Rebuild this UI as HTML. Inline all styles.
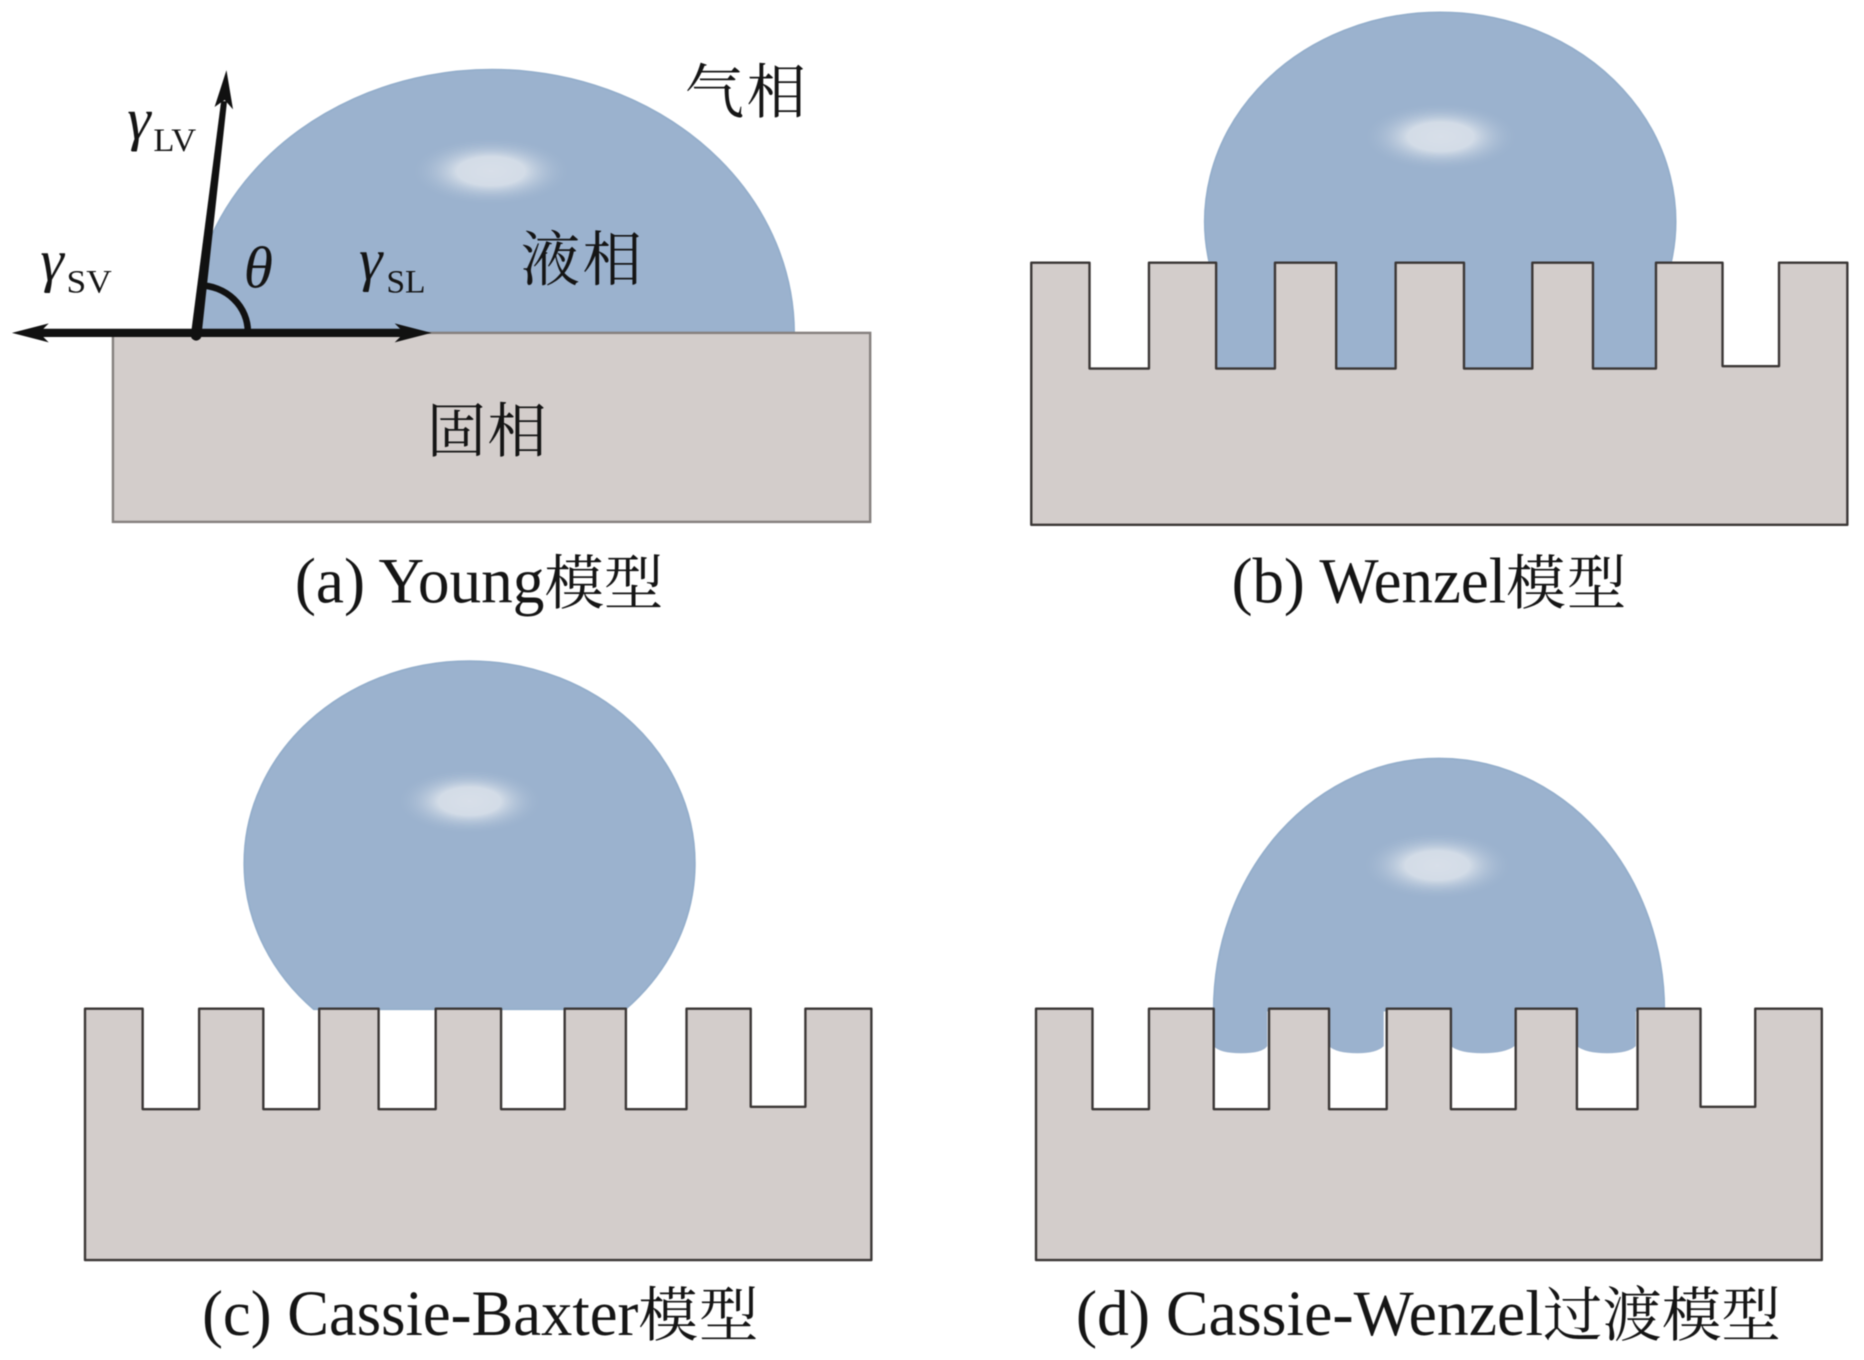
<!DOCTYPE html>
<html lang="zh">
<head>
<meta charset="utf-8">
<title>Wetting models</title>
<style>
html,body{margin:0;padding:0;background:#fff;width:1864px;height:1360px;overflow:hidden}
svg{display:block;filter:blur(.45px)}
text{fill:#151515;font-family:"Liberation Serif","Noto Serif CJK SC",serif}
.cap{font-size:54px}
.cn{font-size:50px}
.g{font-size:50px;font-style:italic}
.s{font-size:28px}
.d{fill:#9bb2ce;stroke:#94aecb;stroke-width:1.5}
.b{fill:#9bb2ce}
.sub{fill:#d3cdcb;stroke:#3b3736;stroke-width:2;stroke-linejoin:round}
</style>
</head>
<body>
<svg width="1864" height="1360" viewBox="0 0 1568 1144" xmlns="http://www.w3.org/2000/svg">
<defs>
<radialGradient id="h">
<stop offset="0" stop-color="#d8dfe9"/>
<stop offset="0.42" stop-color="#d3dce7"/>
<stop offset="1" stop-color="#9bb2ce" stop-opacity="0"/>
</radialGradient>
</defs>
<rect width="1568" height="1144" fill="#fff"/>

<!-- (a) Young -->
<path class="d" d="M165 280 L169 222 A254 222 0 0 1 668 280 Z"/>
<ellipse cx="413" cy="144" rx="68" ry="29" fill="url(#h)"/>
<rect x="95" y="280" width="637" height="159" fill="#d3cdcb" stroke="#85807e" stroke-width="2"/>
<path d="M168 240 A41 39 0 0 1 208.5 279" fill="none" stroke="#111" stroke-width="5.5"/>
<path d="M160.5 282 L169.5 282 L191 85 L186 85 Z" fill="#111"/>
<path d="M190.5 59 L196 92 L189 84 L180.5 90 Z" fill="#111"/>
<path d="M25 280 H345" stroke="#111" stroke-width="7" fill="none"/>
<path d="M10 280 L41 272 L33 280 L41 288 Z" fill="#111"/>
<path d="M363 280 L332 272 L340 280 L332 288 Z" fill="#111"/>
<circle cx="165" cy="282" r="4.5" fill="#111"/>

<text class="g" x="107" y="117">γ</text><text class="s" x="129" y="127" textLength="36" lengthAdjust="spacingAndGlyphs">LV</text>
<text class="g" x="34" y="236">γ</text><text class="s" x="56" y="246" textLength="38" lengthAdjust="spacingAndGlyphs">SV</text>
<text class="g" x="302" y="235">γ</text><text class="s" x="325" y="246" textLength="33" lengthAdjust="spacingAndGlyphs">SL</text>
<text class="g" x="205" y="242">θ</text>
<text class="cn" x="576" y="95" textLength="102">气相</text>
<text class="cn" x="438" y="236" textLength="102">液相</text>
<text class="cn" x="359" y="380" textLength="101">固相</text>
<text class="cap" x="248" y="507" textLength="210" lengthAdjust="spacingAndGlyphs">(a) Young</text>
<text class="cn" x="458" y="508" textLength="100">模型</text>

<!-- (b) Wenzel -->
<path class="d" d="M1017.6 222 A198 176 0 1 1 1405.4 222 Z"/>
<rect class="b" x="1020" y="215" width="376" height="95"/>
<ellipse cx="1212" cy="115" rx="66" ry="29" fill="url(#h)"/>
<path class="sub" d="M867.5 221 H916.5 V310 H966.5 V221 H1023 V310 H1072.5 V221 H1124 V310 H1174 V221 H1231.5 V310 H1289 V221 H1340 V310 H1393 V221 H1449 V308 H1496.5 V221 H1554 V441.5 H867.5 Z"/>
<text class="cap" x="1036" y="507" textLength="231" lengthAdjust="spacingAndGlyphs">(b) Wenzel</text>
<text class="cn" x="1267" y="508" textLength="101">模型</text>

<!-- (c) Cassie-Baxter -->
<path class="d" d="M264 849 A189.5 170 0 1 1 526 849 Z"/>
<ellipse cx="395" cy="674" rx="62" ry="28" fill="url(#h)"/>
<path class="sub" d="M71.5 848.5 H120 V933 H167.5 V848.5 H221.5 V933 H268.5 V848.5 H318.5 V933 H366.5 V848.5 H421.5 V933 H475 V848.5 H526.5 V933 H577.5 V848.5 H631.5 V931 H677.5 V848.5 H733 V1060 H71.5 Z"/>
<text class="cap" x="170" y="1123" textLength="367" lengthAdjust="spacingAndGlyphs">(c) Cassie-Baxter</text>
<text class="cn" x="537" y="1124" textLength="101">模型</text>

<!-- (d) Cassie-Wenzel -->
<path class="d" d="M1021 850 A189.5 212 0 0 1 1400 850 Z"/>
<path class="b" d="M1021 845 V880 Q1026 886 1044 886 Q1062 886 1066 880 V845 Z"/>
<path class="b" d="M1118 845 V880 Q1124 886 1142 886 Q1158 886 1164 880 V845 Z"/>
<path class="b" d="M1220.5 845 V880 Q1228 886 1247 886 Q1266 886 1274 880 V845 Z"/>
<path class="b" d="M1326.5 845 V880 Q1334 886 1352 886 Q1370 886 1376 880 V845 Z"/>
<ellipse cx="1209" cy="728" rx="64" ry="29" fill="url(#h)"/>
<path class="sub" d="M871.5 848.5 H919 V933 H966.5 V848.5 H1021 V933 H1067.5 V848.5 H1118 V933 H1166.5 V848.5 H1220.5 V933 H1275 V848.5 H1326.5 V933 H1377.5 V848.5 H1430.5 V931 H1476.5 V848.5 H1532.5 V1060 H871.5 Z"/>
<text class="cap" x="905" y="1123" textLength="393" lengthAdjust="spacingAndGlyphs">(d) Cassie-Wenzel</text>
<text class="cn" x="1298" y="1124" textLength="200">过渡模型</text>
</svg>
</body>
</html>
